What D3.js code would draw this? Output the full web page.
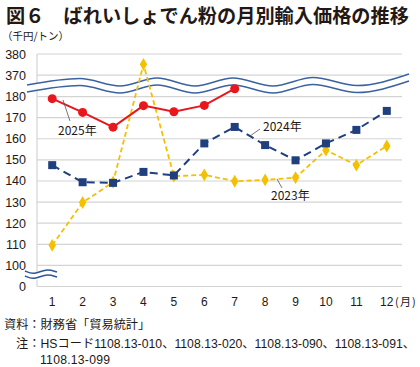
<!DOCTYPE html>
<html>
<head>
<meta charset="utf-8">
<script src="https://cdn.jsdelivr.net/npm/d3@7"></script>
<style>
  body { margin: 0; background: #fff; }
  svg text { font-family: 'Noto Sans CJK JP', 'Noto Sans', sans-serif; fill: #231815; }
  .num { font-family: 'Liberation Sans', Arial, sans-serif; }
  .note { font-family: 'Liberation Sans', 'Noto Sans CJK JP', sans-serif; }
</style>
</head>
<body>
<svg id="chart" width="420" height="367"></svg>
<script>
const months = ['1', '2', '3', '4', '5', '6', '7', '8', '9', '10', '11', '12']
const yTicks = [0, 100, 110, 120, 130, 140, 150, 160, 170, 180, 370, 380]

const y2025 = [179.0, 172.5, 165.5, 175.7, 172.8, 175.8, 183.7]
const y2024 = [147.5, 139.4, 139.1, 144.3, 142.6, 157.8, 165.6, 157.0, 149.8, 157.8, 164.2, 173.2]
const y2023 = [109.5, 129.8, 139.4, 375.1, 142.3, 142.9, 139.9, 140.5, 141.6, 154.6, 147.5, 156.6]

const svg = d3.select('#chart')

// title
svg.append('text')
  .attr('x', 6).attr('y', 23)
  .style('font-size', '19.2px').style('font-weight', 'bold')
  .text('図６　ばれいしょでん粉の月別輸入価格の推移')

svg.append('text')
  .attr('x', 2).attr('y', 40)
  .style('font-size', '10.5px')
  .text('（千円/トン）')

const left = 37
const right = 402

const x = d3.scaleBand()
  .domain(months)
  .range([left, right])

const cx = m => x(m) + x.bandwidth() / 2

// broken axis: 0 | 100..180 | 370..380
const y = d3.scaleLinear()
  .domain([0, 100, 185, 365, 380])
  .range([286.5, 265.4, 86, 85.7, 54])

// grid
svg.append('g')
  .selectAll('line')
  .data(yTicks)
  .enter().append('line')
  .attr('x1', left).attr('x2', right)
  .attr('y1', d => y(d)).attr('y2', d => y(d))
  .attr('stroke', '#d4d4d4')
  .attr('stroke-width', 1.2)

svg.append('line')
  .attr('x1', left).attr('x2', left)
  .attr('y1', y(380)).attr('y2', y(0))
  .attr('stroke', '#d4d4d4')
  .attr('stroke-width', 1.2)

// y labels
svg.append('g')
  .selectAll('text')
  .data(yTicks)
  .enter().append('text')
  .attr('class', 'num')
  .attr('x', 26)
  .attr('y', d => y(d) + 4.5)
  .attr('text-anchor', 'end')
  .style('font-size', '12.5px')
  .text(d => d)

// x labels
svg.append('g')
  .selectAll('text')
  .data(months)
  .enter().append('text')
  .attr('class', 'num')
  .attr('x', d => cx(d))
  .attr('y', 306)
  .attr('text-anchor', 'middle')
  .style('font-size', '12px')
  .text(d => d)

svg.append('text')
  .attr('x', 395).attr('y', 306)
  .style('font-size', '11px')
  .style('letter-spacing', '1.2px')
  .text('(月)')

// wave band across the break
const wavePts = [[27, 85], [80, 78.5], [120, 86], [157, 78], [195, 86], [233, 78], [273, 86], [313, 77.5], [357, 85.5], [409, 74]]
const waveLine = d3.line().curve(d3.curveMonotoneX)
const gap = 7
svg.append('path')
  .attr('d', waveLine(wavePts.map(p => [p[0], p[1] + gap / 2])))
  .attr('fill', 'none').attr('stroke', '#fff').attr('stroke-width', gap)
;[0, gap].forEach(o => {
  svg.append('path')
    .attr('d', waveLine(wavePts.map(p => [p[0], p[1] + o])))
    .attr('fill', 'none')
    .attr('stroke', '#3b62a0')
    .attr('stroke-width', 1.6)
})

// small break mark on axis
const brk = [[25, 271], [34, 275], [46, 268.5], [57, 272]]
svg.append('path')
  .attr('d', waveLine(brk.map(p => [p[0], p[1] + 2.5])))
  .attr('fill', 'none').attr('stroke', '#fff').attr('stroke-width', 6)
;[0, 5].forEach(o => {
  svg.append('path')
    .attr('d', d3.line().curve(d3.curveBasis)(brk.map(p => [p[0], p[1] + o])))
    .attr('fill', 'none')
    .attr('stroke', '#2f5597')
    .attr('stroke-width', 1.5)
})

const line = d3.line()
  .x((d, i) => cx(months[i]))
  .y(d => y(d))

// 2023
svg.append('path')
  .datum(y2023)
  .attr('d', line)
  .attr('fill', 'none')
  .attr('stroke', '#f5c000')
  .attr('stroke-width', 1.8)
  .attr('stroke-dasharray', '5,3')

svg.append('g')
  .selectAll('path')
  .data(y2023)
  .enter().append('path')
  .attr('d', d3.symbol(d3.symbolDiamond, 48))
  .attr('transform', (d, i) => `translate(${cx(months[i])},${y(d)})`)
  .attr('fill', '#f5c000')

// 2024
svg.append('path')
  .datum(y2024)
  .attr('d', line)
  .attr('fill', 'none')
  .attr('stroke', '#1f3f7e')
  .attr('stroke-width', 2)
  .attr('stroke-dasharray', '8,5')

svg.append('g')
  .selectAll('rect')
  .data(y2024)
  .enter().append('rect')
  .attr('x', (d, i) => cx(months[i]) - 4)
  .attr('y', d => y(d) - 4)
  .attr('width', 8).attr('height', 8)
  .attr('fill', '#1f3f7e')

// 2025
svg.append('path')
  .datum(y2025)
  .attr('d', line)
  .attr('fill', 'none')
  .attr('stroke', '#e8161d')
  .attr('stroke-width', 2)

svg.append('g')
  .selectAll('circle')
  .data(y2025)
  .enter().append('circle')
  .attr('cx', (d, i) => cx(months[i]))
  .attr('cy', d => y(d))
  .attr('r', 4.5)
  .attr('fill', '#e8161d')

// series labels with leader lines
const labels = [
  { t: '2025年', x: 58, y: 135, l: [63, 100, 70, 121] },
  { t: '2024年', x: 263, y: 131, l: [250, 136, 260, 129] },
  { t: '2023年', x: 271, y: 200, l: [277, 179, 282, 188] }
]
labels.forEach(d => {
  svg.append('line')
    .attr('x1', d.l[0]).attr('y1', d.l[1])
    .attr('x2', d.l[2]).attr('y2', d.l[3])
    .attr('stroke', '#555').attr('stroke-width', 0.8)
  svg.append('text')
    .attr('x', d.x).attr('y', d.y)
    .style('font-size', '12px')
    .text(d.t)
})

// notes
svg.append('text')
  .attr('class', 'note')
  .attr('x', 4).attr('y', 329)
  .style('font-size', '12.2px')
  .text('資料：財務省「貿易統計」')
svg.append('text')
  .attr('class', 'note')
  .attr('x', 16).attr('y', 348)
  .attr('textLength', 399)
  .attr('lengthAdjust', 'spacing')
  .style('font-size', '12.2px')
  .text('注：HSコード1108.13-010、1108.13-020、1108.13-090、1108.13-091、')
svg.append('text')
  .attr('class', 'note')
  .attr('x', 40).attr('y', 364)
  .attr('textLength', 70)
  .attr('lengthAdjust', 'spacing')
  .style('font-size', '12.2px')
  .text('1108.13-099')
</script>
</body>
</html>
